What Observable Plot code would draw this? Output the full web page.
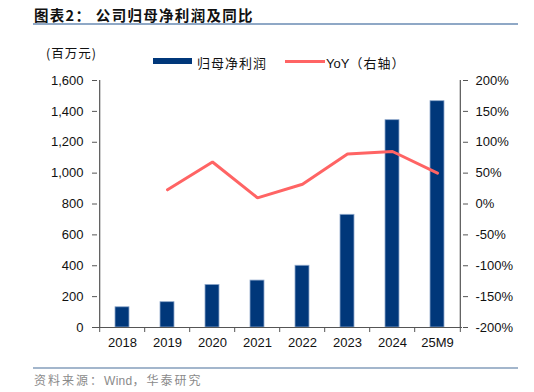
<!DOCTYPE html>
<html><head><meta charset="utf-8">
<script src="https://cdn.jsdelivr.net/npm/d3@7"></script>
<script src="https://cdn.jsdelivr.net/npm/@observablehq/plot@0.6"></script>
<style>
body{margin:0;background:#fff;}
#wrap{position:relative;width:534px;height:392px;overflow:hidden;font-family:"Liberation Sans",Arial,"Noto Sans CJK SC",sans-serif;}
#title{position:absolute;left:34px;top:4px;font-family:"Noto Sans CJK SC";font-weight:bold;font-size:14.5px;color:#111;letter-spacing:1.3px;white-space:pre;}
#tline{position:absolute;left:33px;top:23px;width:485px;height:2px;background:#8fa8c6;}
#unit{position:absolute;left:46px;top:43px;font-family:"Noto Sans CJK SC";font-size:12.5px;color:#111;letter-spacing:1px;}
.lg{position:absolute;top:53px;font-family:"Noto Sans CJK SC";font-size:13px;color:#111;letter-spacing:1px;}
#sw1{position:absolute;left:153px;top:58px;width:39px;height:6px;background:#00377a;}
#sw2{position:absolute;left:285px;top:60px;width:40px;height:3px;background:#ff6464;}
#chart{position:absolute;left:0;top:70px;}
#sline{position:absolute;left:33px;top:367px;width:485px;height:2px;background:#a3b6cc;}
#src{position:absolute;left:34px;top:371px;font-family:"Noto Sans CJK SC";font-size:12px;color:#8a8a8a;letter-spacing:2px;}
</style></head>
<body><div id="wrap">
<div id="title">图表2： 公司归母净利润及同比</div>
<div id="tline"></div>
<div id="unit">(百万元)</div>
<div id="sw1"></div><div class="lg" style="left:197px">归母净利润</div>
<div id="sw2"></div><div class="lg" style="left:326px"><span style="font-family:'Liberation Sans';letter-spacing:0">YoY</span>（右轴）</div>
<div id="chart"></div>
<div id="sline"></div>
<div id="src">资料来源：<span style="font-family:'Liberation Sans';letter-spacing:0.3px">Wind</span>，华泰研究</div>
</div>
<script>
const categories = ["2018","2019","2020","2021","2022","2023","2024","25M9"];
const profit = [131,164,276,304,400,730,1343,1466];
const yoyCategories = ["2019","2020","2021","2022","2023","2024","25M9"];
const yoy = [23,68,10,32,81,85,50];
const leftTicks = [0,200,400,600,800,1000,1200,1400,1600];
const rightTickLabels = [-200,-150,-100,-50,0,50,100,150,200];

const bars = categories.map((c,i)=>({cat:c, v:profit[i]}));
const line = yoyCategories.map((c,i)=>({cat:c, y:yoy[i]}));
const toLeft = p => (p+200)*4;
const rightTicks = rightTickLabels.map(toLeft);

const W=534, H=290, mL=97, mR=72, mT=10, mB=33;
const step=(W-mL-mR)/categories.length;
const axisColor="#555";

const plot = Plot.plot({
  width:W, height:H, marginLeft:mL, marginRight:mR, marginTop:mT, marginBottom:mB,
  style:{fontFamily:"'Liberation Sans',Arial,sans-serif", fontSize:"13px", color:"#111", background:"#fff"},
  x:{type:"band", domain:categories, paddingInner:0.69, paddingOuter:0.345},
  y:{domain:[0,1600]},
  marks:[
    Plot.barY(bars,{x:"cat", y:"v", fill:"#00377a", stroke:"#8fa9cc", strokeWidth:0.8}),
    Plot.line(line,{x:"cat", y:d=>toLeft(d.y), stroke:"#ff6464", strokeWidth:3, strokeLinejoin:"miter"}),
    Plot.ruleY([0],{stroke:axisColor, strokeWidth:1.2}),
    Plot.ruleX([categories[0]],{dx:-step/2, stroke:axisColor, strokeWidth:1.2}),
    Plot.ruleX([categories[categories.length-1]],{dx:step/2, stroke:axisColor, strokeWidth:1.2}),
    Plot.ruleX(categories,{x:d=>d, y1:0, y2:0, insetBottom:-5, dx:-step/2, stroke:axisColor}),
    Plot.ruleX([categories[categories.length-1]],{x:d=>d, y1:0, y2:0, insetBottom:-5, dx:step/2, stroke:axisColor}),
    Plot.axisX({tickSize:0, tickPadding:10, fontSize:13, label:null}),
    Plot.axisY({anchor:"left", ticks:leftTicks, tickSize:5, tickPadding:9, stroke:axisColor, tickFormat:d3.format(","), fontSize:13, label:null}),
    Plot.axisY({anchor:"right", ticks:rightTicks, tickSize:5, tickPadding:8, stroke:axisColor, tickFormat:d=>(d/4-200)+"%", fontSize:13, label:null})
  ]
});
document.getElementById("chart").appendChild(plot);
</script>
</body></html>
